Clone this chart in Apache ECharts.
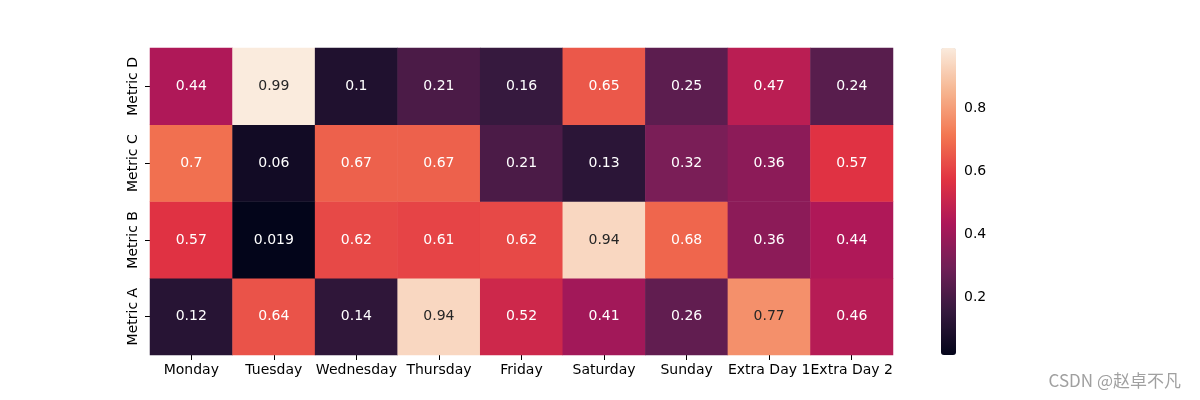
<!DOCTYPE html>
<html>
<head>
<meta charset="utf-8">
<script src="https://cdn.jsdelivr.net/npm/echarts@6/dist/echarts.min.js"></script>
<style>html,body{margin:0;padding:0;background:#fff;}#c{width:1200px;height:400px;}</style>
</head>
<body>
<div id="c"></div>
<script>
var days = ['Monday','Tuesday','Wednesday','Thursday','Friday','Saturday','Sunday','Extra Day 1','Extra Day 2'];
var metrics = ['Metric A','Metric B','Metric C','Metric D'];
var metricA = [0.12, 0.64, 0.14, 0.94, 0.52, 0.41, 0.26, 0.77, 0.46];
var metricB = [0.57, 0.019, 0.62, 0.61, 0.62, 0.94, 0.68, 0.36, 0.44];
var metricC = [0.7, 0.06, 0.67, 0.67, 0.21, 0.13, 0.32, 0.36, 0.57];
var metricD = [0.44, 0.99, 0.1, 0.21, 0.16, 0.65, 0.25, 0.47, 0.24];
var colorbarTicks = [0.2, 0.4, 0.6, 0.8];
var vMin = 0.019, vMax = 0.99;
var rocket = ['#03051a','#35193e','#701f57','#ad1759','#e13342','#f37651','#f6b48f','#faebdd'];

var rows = [metricA, metricB, metricC, metricD];
var data = [];
rows.forEach(function (row, yi) {
  row.forEach(function (v, xi) {
    data.push({
      value: [xi, yi, v],
      label: { color: v > 0.74 ? '#262626' : '#ffffff' }
    });
  });
});

var font = 'DejaVu Sans';
var chart = echarts.init(document.getElementById('c'));
chart.setOption({
  animation: false,
  backgroundColor: '#ffffff',
  title: {
    text: 'CSDN @赵卓不凡',
    right: 14, bottom: 6,
    textStyle: { fontFamily: 'Noto Sans CJK SC', fontSize: 17, fontWeight: 'normal', color: '#a0a0a0' }
  },
  grid: [
    { left: 150, top: 48, width: 743, height: 307 },
    { left: 941, top: 48, width: 15, height: 307 }
  ],
  xAxis: [
    {
      type: 'category', data: days, gridIndex: 0,
      axisLine: { show: false },
      axisTick: { show: true, alignWithLabel: true, length: 5, lineStyle: { color: '#000' } },
      axisLabel: { fontFamily: font, fontSize: 14, color: '#000', margin: 8, interval: 0 },
      splitLine: { show: false }
    },
    {
      type: 'value', gridIndex: 1, show: false, min: 0, max: 1
    }
  ],
  yAxis: [
    {
      type: 'category', data: metrics, gridIndex: 0,
      axisLine: { show: false },
      axisTick: { show: true, alignWithLabel: true, length: 5, lineStyle: { color: '#000' } },
      axisLabel: { fontFamily: font, fontSize: 14, color: '#000', rotate: 90, margin: 10, align: 'center', verticalAlign: 'bottom' },
      splitLine: { show: false }
    },
    {
      type: 'value', gridIndex: 1, position: 'right', min: vMin, max: vMax,
      axisLine: { show: false },
      splitLine: { show: false },
      axisTick: { show: true, length: 5, lineStyle: { color: '#000' }, customValues: colorbarTicks },
      axisLabel: { fontFamily: font, fontSize: 14, color: '#000', margin: 8, customValues: colorbarTicks,
        formatter: function (v) { return v.toFixed(1); } }
    }
  ],
  visualMap: {
    type: 'continuous', min: vMin, max: vMax, seriesIndex: 0,
    calculable: false, realtime: false, text: null, showLabel: false,
    orient: 'vertical', left: 941, top: 48, itemWidth: 15, itemHeight: 307, padding: 0,
    inRange: { color: rocket }
  },
  series: [
    {
      type: 'heatmap', xAxisIndex: 0, yAxisIndex: 0, data: data,
      label: { show: true, fontFamily: font, fontSize: 14 },
      itemStyle: { borderWidth: 0 },
      emphasis: { disabled: true }
    },
    {
      type: 'scatter', xAxisIndex: 1, yAxisIndex: 1, data: [], silent: true
    }
  ]
});
</script>
</body>
</html>
